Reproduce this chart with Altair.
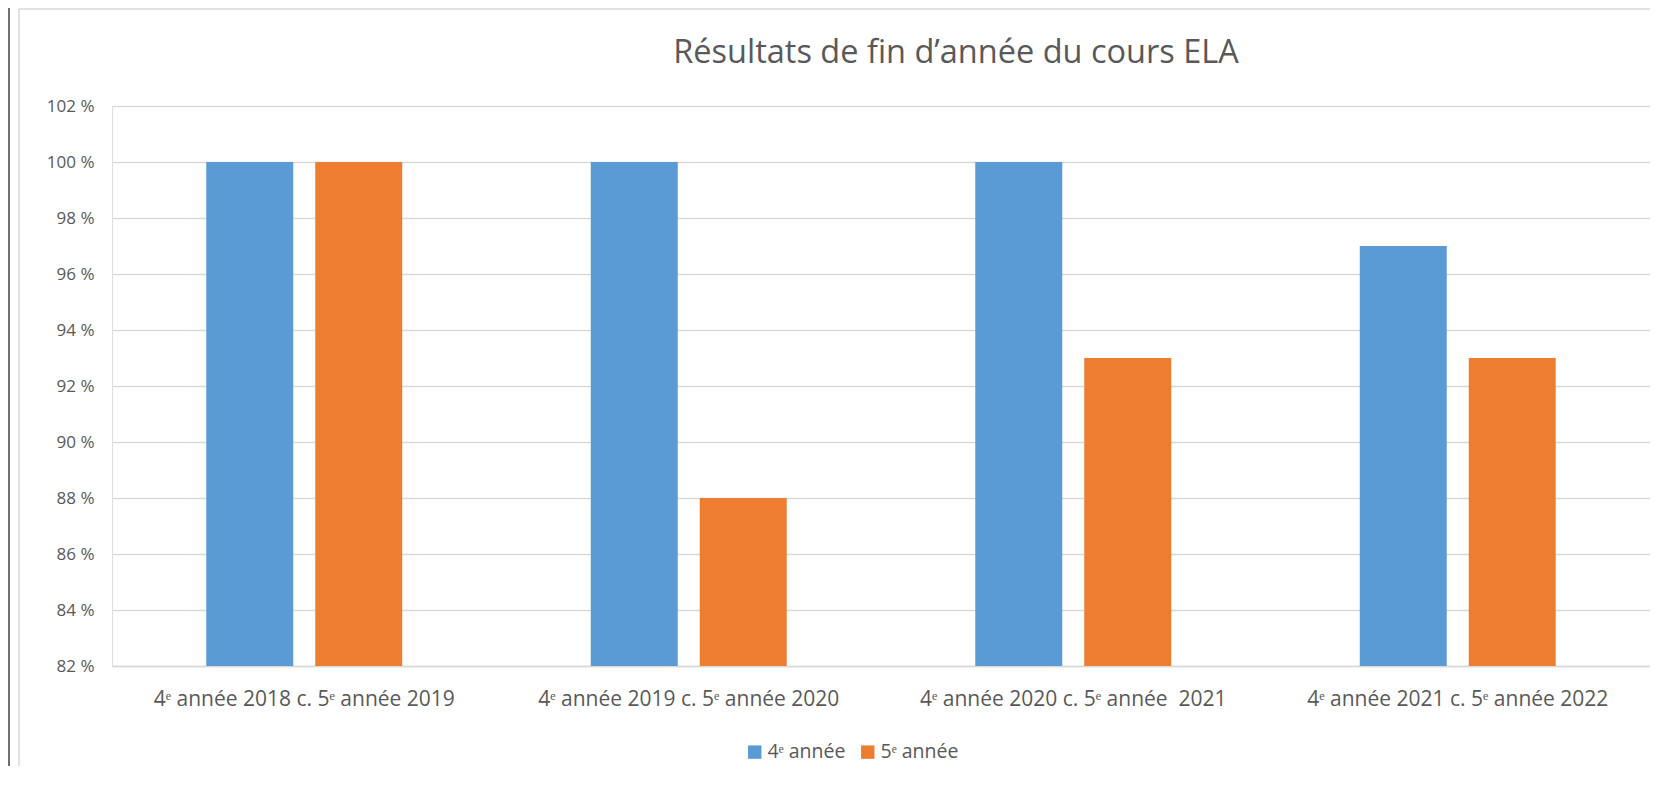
import altair as alt
import pandas as pd

categories = [
    "4ᵉ année 2018 c. 5ᵉ année 2019",
    "4ᵉ année 2019 c. 5ᵉ année 2020",
    "4ᵉ année 2020 c. 5ᵉ année\u00a0 2021",
    "4ᵉ année 2021 c. 5ᵉ année 2022",
]
series = ["4ᵉ année", "5ᵉ année"]
values_4e = [100, 100, 100, 97]
values_5e = [100, 88, 93, 93]
colors = ["#5B9BD5", "#ED7D31"]
y_ticks = [82, 84, 86, 88, 90, 92, 94, 96, 98, 100, 102]
title_text = "Résultats de fin d’année du cours ELA"

rows = []
for c, a, b in zip(categories, values_4e, values_5e):
    rows.append({"cat": c, "serie": series[0], "val": a})
    rows.append({"cat": c, "serie": series[1], "val": b})
df = pd.DataFrame(rows)

FONT = "Open Sans"
TXT = "#595959"
GRID = "#d9d9d9"

bars = alt.Chart(df).mark_bar(clip=True).encode(
    x=alt.X(
        "cat:N",
        sort=categories,
        scale=alt.Scale(paddingInner=0, paddingOuter=0),
        axis=alt.Axis(
            title=None, labelAngle=0, ticks=False, tickSize=0,
            labelPadding=39, labelBaseline="alphabetic",
            labelFontSize=21, labelColor=TXT, labelFont=FONT,
            labelLimit=0, labelOverlap=False, labelBound=False,
            domainColor=GRID, domainWidth=1.6, grid=False,
        ),
    ),
    xOffset=alt.XOffset(
        "serie:N", sort=series,
        scale=alt.Scale(paddingInner=0.2018, paddingOuter=0.865),
    ),
    y=alt.Y(
        "val:Q",
        scale=alt.Scale(domain=[82, 102], nice=False, zero=False),
        axis=alt.Axis(
            title=None, values=y_ticks, labelExpr="datum.value + ' %'",
            ticks=False, tickSize=0, domain=False, labelPadding=18,
            labelFontSize=17, labelColor=TXT, labelFont=FONT,
            gridColor=GRID, gridWidth=1.3,
        ),
    ),
    color=alt.Color(
        "serie:N", sort=series,
        scale=alt.Scale(domain=series, range=colors),
        legend=alt.Legend(
            title=None, orient="none", legendX=633, legendY=636,
            direction="horizontal", symbolType="square", symbolSize=180,
            symbolStrokeWidth=0, labelFontSize=19.5, labelColor=TXT,
            labelFont=FONT, columnPadding=12, labelOffset=3,
        ),
    ),
)

frame_df = pd.DataFrame({"k": [0]})
gray_left = alt.Chart(frame_df).mark_rule(color=GRID, strokeWidth=1.5).encode(
    x=alt.value(-93), y=alt.value(-97), y2=alt.value(690)
)
gray_top = alt.Chart(frame_df).mark_rule(color=GRID, strokeWidth=1.5).encode(
    x=alt.value(-93), x2=alt.value(1560), y=alt.value(-97)
)
dark_left = alt.Chart(frame_df).mark_rule(color="#404040", strokeWidth=1.5).encode(
    x=alt.value(-103), y=alt.value(-98), y2=alt.value(690)
)
title = alt.Chart(pd.DataFrame({"t": [title_text]})).mark_text(
    fontSize=32.5, color=TXT, font=FONT, align="center", baseline="alphabetic"
).encode(text="t:N", x=alt.value(844), y=alt.value(-43))

chart = alt.layer(gray_left, gray_top, dark_left, title, bars).properties(
    width=1538,
    height=560,
    padding={"left": 104, "top": 98, "right": 0, "bottom": 100},
    autosize=alt.AutoSizeParams(type="none"),
).configure_view(stroke=None).configure(font=FONT)

chart.save("out.html", embed_options={"renderer": "svg", "actions": False})
